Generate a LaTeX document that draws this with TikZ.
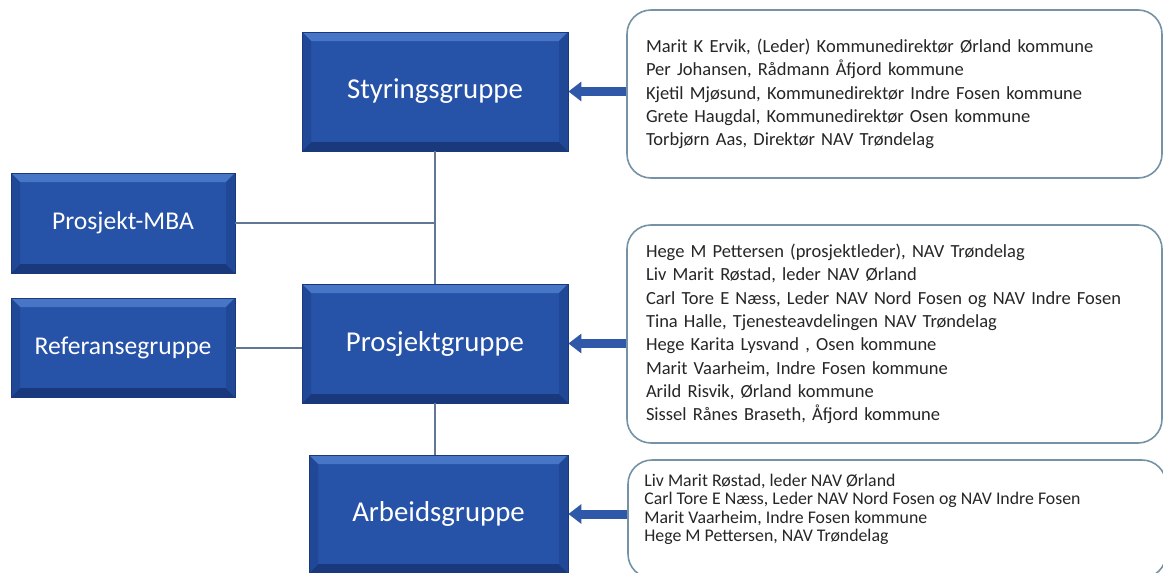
\documentclass[tikz,border=0pt]{standalone}
\usepackage{fontspec}
\setmainfont{Carlito}
\usepackage{tikz}
\usetikzlibrary{arrows.meta, positioning, calc}

\definecolor{boxblue}{RGB}{38,82,168}
\definecolor{bevellight}{RGB}{72,118,198}
\definecolor{bevelside}{RGB}{33,72,150}
\definecolor{beveldark}{RGB}{26,56,124}
\definecolor{linkgray}{RGB}{98,118,150}
\definecolor{arrowblue}{RGB}{48,88,168}
\definecolor{listedge}{RGB}{118,146,166}

\tikzset{
  grp/.style={draw=beveldark, line width=0.8pt, fill=boxblue, text=white, inner sep=0pt,
    font=\fontsize{28.8}{32}\selectfont,
    path picture={
      \fill[bevellight] (path picture bounding box.north west) -- (path picture bounding box.north east)
        -- ([shift={(-9pt,-9pt)}]path picture bounding box.north east) -- ([shift={(9pt,-9pt)}]path picture bounding box.north west) -- cycle;
      \fill[beveldark] (path picture bounding box.south west) -- (path picture bounding box.south east)
        -- ([shift={(-9pt,9pt)}]path picture bounding box.south east) -- ([shift={(9pt,9pt)}]path picture bounding box.south west) -- cycle;
      \fill[bevelside] (path picture bounding box.north west) -- ([shift={(9pt,-9pt)}]path picture bounding box.north west)
        -- ([shift={(9pt,9pt)}]path picture bounding box.south west) -- (path picture bounding box.south west) -- cycle;
      \fill[bevelside] (path picture bounding box.north east) -- ([shift={(-9pt,-9pt)}]path picture bounding box.north east)
        -- ([shift={(-9pt,9pt)}]path picture bounding box.south east) -- (path picture bounding box.south east) -- cycle;
    }},
  sidegrp/.style={grp, font=\fontsize{25.6}{30}\selectfont},
  namebox/.style={draw=listedge, line width=1.6pt, rounded corners=24pt, fill=white},
  names/.style={text=black!85, align=left, inner sep=0pt, font=\fontsize{18.5}{23.3}\selectfont},
  link/.style={draw=linkgray, line width=2pt},
  feed/.style={draw=arrowblue, line width=9pt, -{Triangle[length=13pt,width=19pt]}}
}

\begin{document}
\begin{tikzpicture}[x=1pt, y=-1pt]
  \useasboundingbox (0,0) rectangle (1163,573);

  % Groups
  \node (styring) [grp, minimum width=266pt, minimum height=119pt] at (435,91.5) {Styringsgruppe};
  \node (prosjekt) [grp, minimum width=266pt, minimum height=119pt] at (435,343.5) {Prosjektgruppe};
  \node (arbeid) [grp, minimum width=259pt, minimum height=118pt] at (438.5,514) {Arbeidsgruppe};
  \node (mba) [sidegrp, minimum width=224pt, minimum height=100pt] at (123,223) {Prosjekt-MBA};
  \node (referanse) [sidegrp, minimum width=224pt, minimum height=99pt] at (123,347.5) {Referansegruppe};

  % Member lists
  \node (styring_list) [namebox, names, minimum width=535pt, minimum height=168pt, text width=497pt, inner xsep=19pt] at (894.5,94) {%
    Marit K Ervik, (Leder) Kommunedirektør Ørland kommune\\
    Per Johansen, Rådmann Åfjord kommune\\
    Kjetil Mjøsund, Kommunedirektør Indre Fosen kommune\\
    Grete Haugdal, Kommunedirektør Osen kommune\\
    Torbjørn Aas, Direktør NAV Trøndelag};
  \node (prosjekt_list) [namebox, names, minimum width=535pt, minimum height=218pt, text width=497pt, inner xsep=19pt] at (894.5,334) {%
    Hege M Pettersen (prosjektleder), NAV Trøndelag\\
    Liv Marit Røstad, leder NAV Ørland\\
    Carl Tore E Næss, Leder NAV Nord Fosen og NAV Indre Fosen\\
    Tina Halle, Tjenesteavdelingen NAV Trøndelag\\
    Hege Karita Lysvand , Osen kommune\\
    Marit Vaarheim, Indre Fosen kommune\\
    Arild Risvik, Ørland kommune\\
    Sissel Rånes Braseth, Åfjord kommune};
  \node (arbeid_list) [namebox, minimum width=538pt, minimum height=118pt] at (897,519) {};
  \node (arbeid_names) [names, font=\fontsize{17.8}{18.5}\selectfont, anchor=west] at ($(arbeid_list.west)+(17,-9.5)$) {%
    Liv Marit Røstad, leder NAV Ørland\\
    Carl Tore E Næss, Leder NAV Nord Fosen og NAV Indre Fosen\\
    Marit Vaarheim, Indre Fosen kommune\\
    Hege M Pettersen, NAV Trøndelag};

  % Lines between groups
  \draw [link] (styring.south) -- (prosjekt.north);
  \draw [link] (prosjekt.south) -- (prosjekt.south |- arbeid.north);
  \draw [link] (mba.east) -- (mba.east -| styring.south);
  \draw [link] (referanse.east) -- (referanse.east -| prosjekt.west);

  % Arrows from lists
  \draw [feed] (styring_list.west |- styring.east) -- (styring.east);
  \draw [feed] (prosjekt_list.west |- prosjekt.east) -- (prosjekt.east);
  \draw [feed] (arbeid_list.west |- arbeid.east) -- (arbeid.east);
\end{tikzpicture}
\end{document}
